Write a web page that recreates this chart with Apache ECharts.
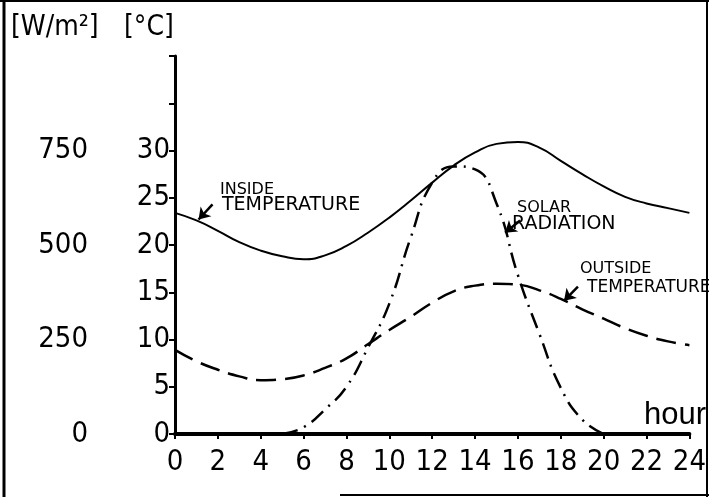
<!DOCTYPE html>
<html>
<head>
<meta charset="utf-8">
<script src="https://cdn.jsdelivr.net/npm/echarts@6/dist/echarts.min.js"></script>
<style>
html,body{margin:0;padding:0;background:#fff;}
#chart{width:709px;height:497px;}
</style>
</head>
<body>
<div id="chart"></div>
<script>
// ---- data ----
const hours = [0,1,2,3,4,5,6,7,8,9,10,11,12,13,14,15,16,17,18,19,20,21,22,23,24];
const insideTemp = [23.4,22.6,21.5,20.3,19.4,18.8,18.5,18.9,19.9,21.3,22.9,24.7,26.6,28.4,29.8,30.7,30.9,30.3,28.9,27.5,26.2,25.1,24.4,23.9,23.4];
const outsideTemp = [8.9,7.7,6.8,6.1,5.7,5.8,6.2,7.0,8.0,9.5,11.0,12.4,13.9,15.1,15.7,15.9,15.8,15.2,14.3,13.2,12.2,11.2,10.4,9.8,9.4];
const solarHours = [5,6,7,8,9,10,11,12,13,14,15,16,17,18,19,20];
const solarRadiation = [0,18,65,125,228,345,520,665,708,700,610,420,265,122,38,0];
const tempTicksShown = [0,5,10,15,20,25,30];
const radTicksShown = [0,250,500,750];
const annotations = {
  inside: ['INSIDE','TEMPERATURE'],
  solar: ['SOLAR','RADIATION'],
  outside: ['OUTSIDE','TEMPERATURE']
};

const narrow = "'DejaVu Sans Condensed',sans-serif";
const hand = "'DejaVu Sans',sans-serif";

const pair = (xs, ys) => xs.map((x, i) => [x, ys[i]]);

const chart = echarts.init(document.getElementById('chart'), null, {renderer: 'canvas'});
chart.setOption({
  backgroundColor: '#fff',
  animation: false,
  grid: {left: 175, right: 16, top: 56, bottom: 63},
  xAxis: {
    type: 'value', min: 0, max: 24, interval: 2,
    axisLine: {show: true, lineStyle: {color: '#000', width: 4}},
    axisTick: {show: true, length: 5, lineStyle: {color: '#000', width: 2}},
    axisLabel: {color: '#000', fontFamily: narrow, fontSize: 29, margin: 14},
    splitLine: {show: false}
  },
  yAxis: [{
    type: 'value', min: 0, max: 40, interval: 5, position: 'left',
    axisLine: {show: true, lineStyle: {color: '#000', width: 3}},
    axisTick: {show: true, length: 6, lineStyle: {color: '#000', width: 2}},
    axisLabel: {
      color: '#000', fontFamily: narrow, fontSize: 29, margin: 5,
      formatter: v => tempTicksShown.includes(v) ? String(v) : ''
    },
    splitLine: {show: false}
  }, {
    type: 'value', min: 0, max: 1000, interval: 250, position: 'left', offset: 80,
    axisLine: {show: false}, axisTick: {show: false},
    axisLabel: {
      color: '#000', fontFamily: narrow, fontSize: 29, margin: 7,
      formatter: v => radTicksShown.includes(v) ? String(v) : ''
    },
    splitLine: {show: false}
  }],
  series: [{
    name: 'Inside temperature', type: 'line', yAxisIndex: 0,
    data: pair(hours, insideTemp), smooth: 0.5, showSymbol: false,
    lineStyle: {color: '#000', width: 2, type: 'solid'},
    markLine: {
      silent: true, symbol: ['none', 'arrow'], symbolSize: 11, label: {show: false},
      lineStyle: {color: '#000', width: 2.5, type: 'solid'},
      data: [
        [{coord: [1.75, 24.3]}, {coord: [1.1, 22.7]}],
        [{coord: [16.1, 22.6]}, {coord: [15.4, 21.3]}],
        [{coord: [18.8, 15.6]}, {coord: [18.15, 14.1]}]
      ]
    }
  }, {
    name: 'Outside temperature', type: 'line', yAxisIndex: 0,
    data: pair(hours, outsideTemp), smooth: 0.5, showSymbol: false,
    lineStyle: {color: '#000', width: 2.5, type: [20, 9]}
  }, {
    name: 'Solar radiation', type: 'line', yAxisIndex: 1,
    data: pair(solarHours, solarRadiation), smooth: 0.5, showSymbol: false,
    lineStyle: {color: '#000', width: 2.5, type: [16, 7, 2, 7]}
  }],
  graphic: [
    {type: 'text', left: 11, top: 14, style: {text: '[W/m²]', font: '28px ' + narrow, fill: '#000'}},
    {type: 'text', left: 124, top: 14, style: {text: '[°C]', font: '28px ' + narrow, fill: '#000'}},
    {type: 'text', right: 3, top: 400, style: {text: 'hour', font: '31px ' + "'Liberation Sans',sans-serif", fill: '#000'}},
    {type: 'text', left: 220, top: 182, style: {text: annotations.inside[0], font: '16px ' + hand, fill: '#000'}},
    {type: 'text', left: 222, top: 196, style: {text: annotations.inside[1], font: '19px ' + hand, fill: '#000'}},
    {type: 'text', left: 517, top: 200, style: {text: annotations.solar[0], font: '16px ' + hand, fill: '#000'}},
    {type: 'text', left: 512, top: 215, style: {text: annotations.solar[1], font: '19px ' + hand, fill: '#000'}},
    {type: 'text', left: 580, top: 261, style: {text: annotations.outside[0], font: '16px ' + hand, fill: '#000'}},
    {type: 'text', left: 587, top: 279, style: {text: annotations.outside[1], font: '17px ' + hand, fill: '#000'}},
    // page frame
    {type: 'line', shape: {x1: 4, y1: 0, x2: 4, y2: 497}, style: {stroke: '#000', lineWidth: 3}},
    {type: 'line', shape: {x1: 0, y1: 1, x2: 709, y2: 1}, style: {stroke: '#000', lineWidth: 2}},
    {type: 'line', shape: {x1: 707, y1: 0, x2: 707, y2: 497}, style: {stroke: '#000', lineWidth: 2}},
    {type: 'line', shape: {x1: 340, y1: 495, x2: 709, y2: 495}, style: {stroke: '#000', lineWidth: 2}}
  ]
});
</script>
</body>
</html>
